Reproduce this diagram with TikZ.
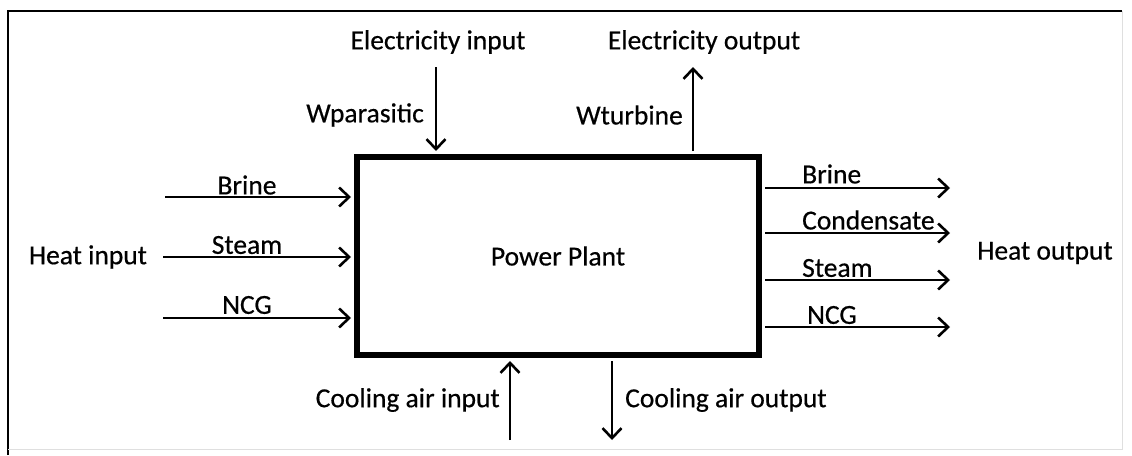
\documentclass[tikz,border=0pt]{standalone}
\usepackage{fontspec}
\setmainfont{Carlito}[FakeBold=0.5]
\usetikzlibrary{arrows.meta,positioning}

\begin{document}
\begin{tikzpicture}[x=1pt, y=-1pt,
		tag/.style={font=\fontsize{27.5}{31}\selectfont, inner sep=0pt},
		flow/.style={line width=2.6pt, -{Straight Barb[length=10pt, width=19pt, line width=2.6pt]}},
		plantbox/.style={draw, line width=6pt, minimum width=402pt, minimum height=198pt}]

		\useasboundingbox (0,0) rectangle (1132,455);
		% frame
		\draw[line width=1.5pt] (8,455) -- (8,11) -- (1122,11);
		\draw[gray!25, line width=1pt] (1122,11) -- (1122,449) -- (8,449);

		\node[plantbox, tag] (plant) at (558,256) {Power Plant};

		% heat input
		\coordinate (brinein) at (165,197);
		\coordinate (steamin) at (163,257);
		\coordinate (ncgin) at (163,318);
		\draw[flow, shorten >=3pt] (brinein) -- (brinein -| plant.west);
		\draw[flow, shorten >=3pt] (steamin) -- (steamin -| plant.west);
		\draw[flow, shorten >=3pt] (ncgin) -- (ncgin -| plant.west);
		\node[tag] (brinetag) at (247,185) {Brine};
		\node[tag] (steamtag) at (247,245) {Steam};
		\node[tag] (ncgtag) at (247,305) {NCG};
		\node[tag] (heatin) at (88,257) {Heat input};

		% heat output
		\coordinate (brineout) at (950,188);
		\coordinate (condout) at (950,233);
		\coordinate (steamout) at (950,280);
		\coordinate (ncgout) at (950,327);
		\draw[flow, shorten <=3pt] (brineout -| plant.east) -- (brineout);
		\draw[flow, shorten <=3pt] (condout -| plant.east) -- (condout);
		\draw[flow, shorten <=3pt] (steamout -| plant.east) -- (steamout);
		\draw[flow, shorten <=3pt] (ncgout -| plant.east) -- (ncgout);
		\node[tag, anchor=west] (brineouttag) at (802,174) {Brine};
		\node[tag, anchor=west] (condtag) at (802,220) {Condensate};
		\node[tag, anchor=west] (steamouttag) at (802,268) {Steam};
		\node[tag, anchor=west] (ncgouttag) at (807,315) {NCG};
		\node[tag] (heatout) at (1045,253) {Heat output};

		% electricity
		\node[tag] (elecin) at (438,42) {Electricity input};
		\node[tag] (elecout) at (704,42) {Electricity output};
		\coordinate (parasitic) at (436,67);
		\coordinate (turbine) at (693,67);
		\draw[flow, shorten >=3pt] (parasitic) -- (parasitic |- plant.north);
		\draw[flow, shorten <=3pt] (turbine |- plant.north) -- (turbine);
		\node[tag, anchor=east] (wpar) at (424,115) {Wparasitic};
		\node[tag, anchor=east] (wturb) at (683,115) {Wturbine};

		% cooling air
		\coordinate (airin) at (510,440);
		\coordinate (airout) at (612,440);
		\draw[flow, shorten >=3pt] (airin) -- (airin |- plant.south);
		\draw[flow, shorten <=3pt] (airout |- plant.south) -- (airout);
		\node[tag, anchor=east] (airintag) at (500,400) {Cooling air input};
		\node[tag, anchor=west] (airouttag) at (625,400) {Cooling air output};
	\end{tikzpicture}
\end{document}
